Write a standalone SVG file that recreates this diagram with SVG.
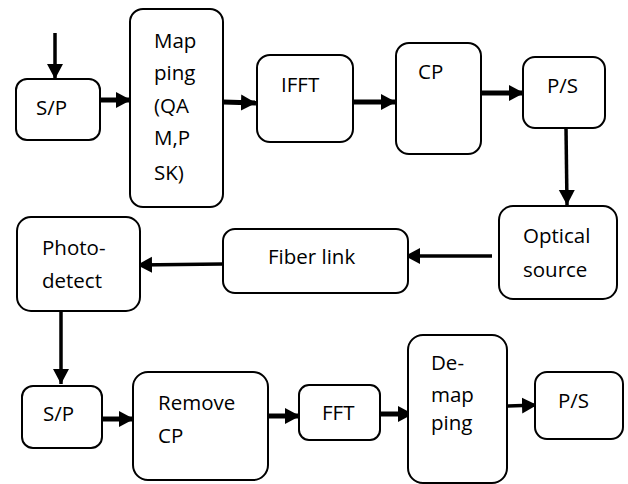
<svg xmlns="http://www.w3.org/2000/svg" width="628" height="484" viewBox="0 0 628 484">
<style>
.box{fill:#fff;stroke:#000;stroke-width:2}
.t{font-family:"Open Sans","Liberation Sans",sans-serif;font-size:20.5px;fill:#000}
.thick{stroke:#000;stroke-width:5;fill:none}
.thin{stroke:#000;stroke-width:3.5;fill:none}
</style>
<defs>
<marker id="ah" markerUnits="userSpaceOnUse" markerWidth="16" markerHeight="18" refX="15" refY="8" orient="auto" viewBox="0 0 16 16">
<path d="M0,0 L15,8 L0,16 Z" fill="#000"/>
</marker>
</defs>
<rect width="628" height="484" fill="#fff"/>
<g id="connectors">
<line class="thin" x1="55" y1="33" x2="55" y2="79" marker-end="url(#ah)"/>
<line class="thick" x1="100" y1="100" x2="131" y2="100" marker-end="url(#ah)"/>
<line class="thick" x1="223" y1="102" x2="256" y2="103" marker-end="url(#ah)"/>
<line class="thick" x1="353" y1="102" x2="396" y2="102" marker-end="url(#ah)"/>
<line class="thick" x1="481" y1="93" x2="524" y2="93" marker-end="url(#ah)"/>
<line class="thin" x1="566" y1="128" x2="567" y2="205" marker-end="url(#ah)"/>
<line class="thin" x1="492" y1="256" x2="405" y2="256" marker-end="url(#ah)"/>
<line class="thin" x1="223" y1="264" x2="137" y2="265" marker-end="url(#ah)"/>
<line class="thin" x1="61" y1="311" x2="61" y2="384" marker-end="url(#ah)"/>
<line class="thick" x1="102" y1="419" x2="134" y2="419" marker-end="url(#ah)"/>
<line class="thick" x1="268" y1="416" x2="300" y2="416" marker-end="url(#ah)"/>
<line class="thick" x1="380" y1="414" x2="413" y2="414" marker-end="url(#ah)"/>
<line class="thin" x1="507" y1="406" x2="537" y2="405" marker-end="url(#ah)"/>
</g>
<g id="sp1"><rect class="box" x="16" y="79" width="84" height="61" rx="11"/><text class="t" x="36" y="115">S/P</text></g>
<g id="mapping"><rect class="box" x="130" y="9" width="93" height="198" rx="13"/>
<text class="t" x="154" y="48">Map</text><text class="t" x="154" y="80">ping</text><text class="t" x="154" y="113">(QA</text><text class="t" x="154" y="145">M,P</text><text class="t" x="154" y="180">SK)</text></g>
<g id="ifft"><rect class="box" x="257" y="55" width="96" height="87" rx="13"/><text class="t" x="281" y="92">IFFT</text></g>
<g id="cp"><rect class="box" x="396" y="43" width="85" height="111" rx="13"/><text class="t" x="418" y="79">CP</text></g>
<g id="ps1"><rect class="box" x="523" y="57" width="82" height="71" rx="12"/><text class="t" x="547" y="93">P/S</text></g>
<g id="optical"><rect class="box" x="499" y="206" width="118" height="93" rx="14"/><text class="t" x="523" y="243">Optical</text><text class="t" x="523" y="277">source</text></g>
<g id="fiber"><rect class="box" x="223" y="229" width="185" height="64" rx="12"/><text class="t" x="268" y="264">Fiber link</text></g>
<g id="photo"><rect class="box" x="17" y="217" width="123" height="94" rx="14"/><text class="t" x="42" y="255">Photo-</text><text class="t" x="42" y="288">detect</text></g>
<g id="sp2"><rect class="box" x="22" y="386" width="80" height="62" rx="11"/><text class="t" x="43" y="421">S/P</text></g>
<g id="removecp"><rect class="box" x="133" y="372" width="135" height="108" rx="15"/><text class="t" x="158" y="410">Remove</text><text class="t" x="158" y="443">CP</text></g>
<g id="fft"><rect class="box" x="299" y="385" width="81" height="55" rx="10"/><text class="t" x="322" y="420">FFT</text></g>
<g id="demapping"><rect class="box" x="408" y="335" width="99" height="148" rx="15"/><text class="t" x="431" y="370">De-</text><text class="t" x="431" y="402">map</text><text class="t" x="431" y="430">ping</text></g>
<g id="ps2"><rect class="box" x="535" y="372" width="88" height="67" rx="12"/><text class="t" x="558" y="408">P/S</text></g>
</svg>
